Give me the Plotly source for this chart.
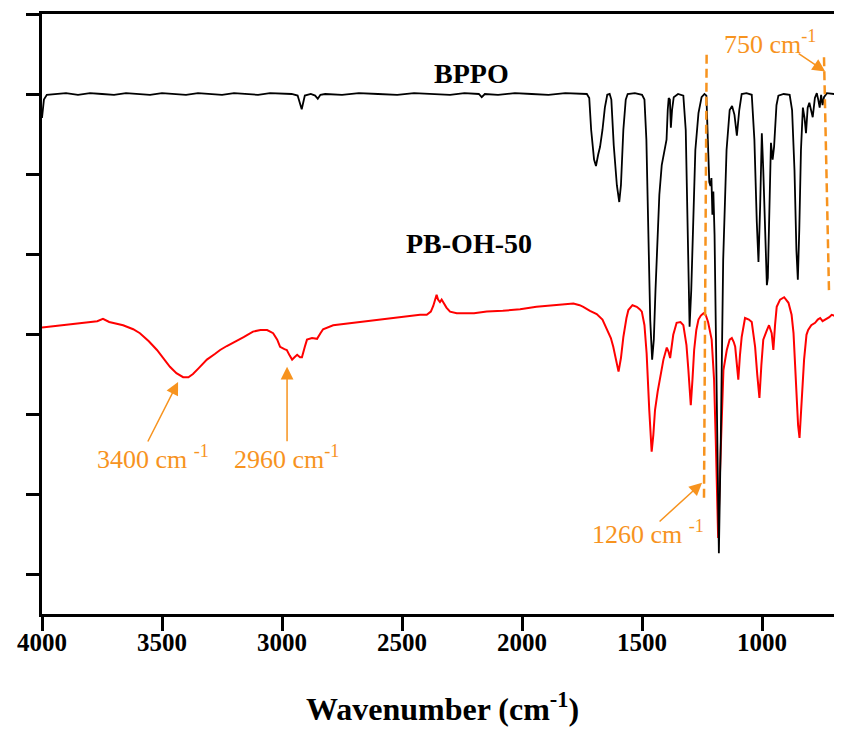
import plotly.graph_objects as go

# ---------------- data ----------------
bppo_wn = [4000, 3992, 3980, 3950, 3900, 3850, 3800, 3750, 3700, 3650, 3600, 3550, 3500,
           3450, 3400, 3350, 3300, 3250, 3200, 3150, 3100, 3050, 3000, 2960, 2935, 2918,
           2905, 2880, 2862, 2851, 2840, 2820, 2750, 2680, 2600, 2520, 2450, 2380, 2300,
           2240, 2180, 2168, 2155, 2100, 2030, 1960, 1890, 1820, 1760, 1740, 1730, 1720,
           1712, 1700, 1692, 1683, 1675, 1665, 1655, 1645, 1635, 1628, 1618, 1605, 1595,
           1588, 1578, 1568, 1560, 1530, 1500, 1490, 1482, 1474, 1466, 1458, 1451, 1444,
           1436, 1428, 1418, 1408, 1398, 1393, 1389, 1384, 1380, 1375, 1368, 1350, 1328,
           1318, 1310, 1302, 1295, 1287, 1278, 1265, 1252, 1240, 1232, 1226, 1220, 1215,
           1211, 1207, 1203, 1198, 1190, 1180, 1172, 1162, 1148, 1135, 1125, 1115, 1105,
           1095, 1085, 1065, 1043, 1032, 1022, 1015, 1008, 1001, 995, 988, 980, 976, 969,
           963, 956, 950, 940, 932, 910, 885, 875, 865, 857, 851, 845, 838, 830, 823, 817,
           810, 803, 795, 789, 780, 772, 766, 760, 754, 748, 742, 730, 700, 669]
bppo_t = [6.20, 6.43, 6.49, 6.50, 6.51, 6.49, 6.51, 6.50, 6.49, 6.51, 6.50, 6.49, 6.51,
          6.50, 6.49, 6.51, 6.50, 6.49, 6.51, 6.50, 6.49, 6.51, 6.50, 6.50, 6.48, 6.31,
          6.48, 6.50, 6.48, 6.44, 6.49, 6.50, 6.49, 6.51, 6.50, 6.49, 6.51, 6.50, 6.49,
          6.51, 6.50, 6.46, 6.50, 6.49, 6.51, 6.50, 6.49, 6.51, 6.50, 6.50, 6.50, 6.45,
          6.05, 5.68, 5.60, 5.74, 5.84, 6.05, 6.33, 6.49, 6.50, 6.43, 5.86, 5.36, 5.15,
          5.36, 6.05, 6.43, 6.50, 6.51, 6.49, 6.43, 5.93, 4.80, 3.68, 3.18, 3.43, 4.05,
          4.74, 5.24, 5.61, 5.80, 5.93, 6.30, 6.45, 6.43, 6.08, 6.30, 6.46, 6.50, 6.48,
          6.05, 4.55, 3.59, 4.05, 5.05, 5.80, 6.26, 6.46, 6.50, 6.48, 5.93, 5.40, 5.35,
          5.45, 4.99, 5.28, 4.74, 2.80, 0.76, 2.18, 4.43, 5.80, 6.30, 6.35, 6.24, 5.98,
          6.30, 6.50, 6.51, 6.49, 5.93, 4.90, 4.40, 5.10, 6.01, 5.55, 4.80, 4.11, 4.20,
          5.18, 5.89, 5.68, 5.84, 6.36, 6.48, 6.50, 6.49, 6.30, 5.55, 4.55, 4.18, 4.80,
          5.80, 6.33, 6.20, 6.01, 6.33, 6.39, 6.30, 6.21, 6.45, 6.51, 6.43, 6.33, 6.49,
          6.36, 6.46, 6.51, 6.50, 6.51]

pb_wn = [4000, 3920, 3829, 3770, 3746, 3720, 3662, 3620, 3592, 3555, 3521, 3490, 3467,
         3440, 3412, 3390, 3371, 3345, 3313, 3280, 3258, 3230, 3204, 3160, 3121, 3090,
         3062, 3037, 3020, 3008, 2990, 2980, 2968, 2958, 2948, 2937, 2925, 2917, 2905,
         2896, 2875, 2854, 2840, 2829, 2787, 2700, 2646, 2560, 2508, 2425, 2397, 2380,
         2370, 2362, 2356, 2350, 2342, 2335, 2328, 2315, 2300, 2272, 2200, 2147, 2080,
         2008, 1940, 1870, 1810, 1786, 1760, 1745, 1717, 1689, 1665, 1647, 1630, 1620,
         1608, 1598, 1588, 1578, 1565, 1557, 1540, 1522, 1510, 1501, 1490, 1481, 1470,
         1460, 1453, 1446, 1435, 1425, 1418, 1411, 1397, 1390, 1383, 1370, 1356, 1340,
         1328, 1315, 1307, 1297, 1290, 1283, 1274, 1265, 1255, 1244, 1235, 1225, 1210,
         1200, 1193, 1183, 1175, 1168, 1161, 1147, 1135, 1126, 1118, 1112, 1105, 1099,
         1092, 1085, 1071, 1055, 1043, 1035, 1029, 1020, 1011, 1003, 995, 981, 971, 960,
         953, 946, 939, 925, 908, 890, 877, 869, 862, 856, 850, 844, 839, 835, 825, 815,
         808, 795, 779, 768, 758, 748, 737, 720, 710, 700, 690, 669]
pb_t = [3.58, 3.61, 3.64, 3.66, 3.69, 3.65, 3.61, 3.56, 3.51, 3.41, 3.30, 3.18, 3.09,
        3.01, 2.96, 2.96, 3.00, 3.08, 3.18, 3.25, 3.30, 3.35, 3.39, 3.46, 3.53, 3.55,
        3.55, 3.51, 3.43, 3.34, 3.31, 3.30, 3.23, 3.18, 3.21, 3.24, 3.21, 3.21, 3.34,
        3.43, 3.45, 3.44, 3.51, 3.56, 3.61, 3.64, 3.66, 3.69, 3.71, 3.74, 3.74, 3.78,
        3.85, 3.95, 3.99, 3.93, 3.90, 3.93, 3.89, 3.83, 3.78, 3.76, 3.76, 3.78, 3.79,
        3.81, 3.84, 3.86, 3.88, 3.88, 3.86, 3.84, 3.79, 3.75, 3.68, 3.55, 3.45, 3.34,
        3.15, 3.03, 3.20, 3.46, 3.70, 3.80, 3.86, 3.84, 3.81, 3.78, 3.61, 3.26, 2.55,
        2.03, 2.24, 2.55, 2.78, 2.93, 3.05, 3.18, 3.33, 3.28, 3.20, 3.49, 3.64, 3.65,
        3.61, 3.36, 3.05, 2.61, 2.93, 3.30, 3.55, 3.68, 3.73, 3.76, 3.74, 3.65, 3.43,
        2.93, 2.18, 0.95, 1.80, 2.55, 3.05, 3.30, 3.43, 3.45, 3.40, 3.34, 3.11, 2.93,
        3.24, 3.46, 3.70, 3.68, 3.65, 3.49, 3.34, 2.99, 2.70, 3.11, 3.43, 3.54, 3.61, 3.51,
        3.30, 3.61, 3.84, 3.93, 3.96, 3.89, 3.74, 3.51, 3.11, 2.71, 2.36, 2.20, 2.44, 2.71,
        3.18, 3.49, 3.55, 3.61, 3.64, 3.68, 3.70, 3.66, 3.68, 3.71, 3.74, 3.73, 3.70, 3.64]

x_tickvals = [4000, 3500, 3000, 2500, 2000, 1500, 1000]
x_ticktext = ["4000", "3500", "3000", "2500", "2000", "1500", "1000"]
y_tickvals = [0.5, 1.5, 2.5, 3.5, 4.5, 5.5, 6.5, 7.5]

ORANGE = "#F7931E"
SERIF = "Liberation Serif"

fig = go.Figure()
fig.add_trace(go.Scatter(x=pb_wn, y=pb_t, mode="lines", name="PB-OH-50",
                         line=dict(color="#FF0000", width=2)))
fig.add_trace(go.Scatter(x=bppo_wn, y=bppo_t, mode="lines", name="BPPO",
                         line=dict(color="#000000", width=1.8)))

# dashed guide lines
fig.add_shape(type="line", xref="x", yref="y", x0=1231, y0=6.99, x1=1242, y1=1.43,
              line=dict(color=ORANGE, width=2.5, dash="9px,5px"))
fig.add_shape(type="line", xref="x", yref="y", x0=742, y0=6.96, x1=721, y1=4.01,
              line=dict(color=ORANGE, width=2.5, dash="9px,5px"))

annots = []
# arrows
for (x, y, ax, ay) in [(3433, 2.90, -31, 61), (2979, 3.09, 0, 76),
                       (1250, 1.64, -44, 40), (737, 6.78, -28, -19)]:
    annots.append(dict(x=x, y=y, xref="x", yref="y", ax=ax, ay=ay, text="",
                       showarrow=True, arrowhead=2, arrowsize=1.7, arrowwidth=1.5,
                       arrowcolor=ORANGE, standoff=0))
# orange labels
for (x, y, t) in [(3537, 1.96, "3400 cm <sup>-1</sup>"), (2983, 1.96, "2960 cm<sup>-1</sup>"),
                  (1475, 1.02, "1260 cm <sup>-1</sup>"), (967, 7.15, "750 cm<sup>-1</sup>")]:
    annots.append(dict(x=x, y=y, xref="x", yref="y", text=t, showarrow=False,
                       xanchor="center", yanchor="middle",
                       font=dict(family=SERIF, size=26, color=ORANGE)))
# series labels
annots.append(dict(x=2212, y=6.76, xref="x", yref="y", text="<b>BPPO</b>", showarrow=False,
                   font=dict(family=SERIF, size=28, color="black")))
annots.append(dict(x=2221, y=4.63, xref="x", yref="y", text="<b>PB-OH-50</b>", showarrow=False,
                   font=dict(family=SERIF, size=28, color="black")))
# axis title
annots.append(dict(x=0.5, y=-0.155, xref="paper", yref="paper",
                   text="<b>Wavenumber (cm<sup>-1</sup>)</b>", showarrow=False,
                   xanchor="center", yanchor="middle",
                   font=dict(family=SERIF, size=32, color="black")))

# The page body has an 8px default margin, so the figure is sized and
# padded to put the plot frame where the reference has it.
fig.update_layout(
    width=834, height=723,
    margin=dict(l=34, r=0, t=6, b=117),
    paper_bgcolor="white", plot_bgcolor="white",
    showlegend=False,
    annotations=annots,
    xaxis=dict(range=[4000, 667], tickvals=x_tickvals, ticktext=x_ticktext,
               ticks="outside", ticklen=14, tickwidth=3, tickcolor="black",
               ticklabelstandoff=-10,
               showline=True, linewidth=3, linecolor="black", mirror=True,
               showgrid=False, zeroline=False,
               tickfont=dict(family=SERIF, size=25, color="black", weight="bold")),
    yaxis=dict(range=[0, 7.5], tickvals=y_tickvals, showticklabels=False,
               ticks="outside", ticklen=13, tickwidth=3, tickcolor="black",
               showline=True, linewidth=3, linecolor="black",
               showgrid=False, zeroline=False),
)

fig.write_html("out.html")
